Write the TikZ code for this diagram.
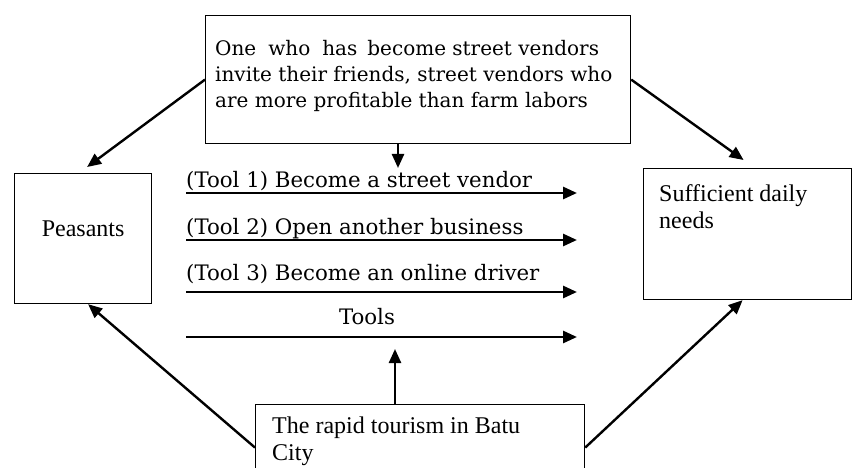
\documentclass[tikz,border=0pt]{standalone}
\usepackage{fontspec}
\setmainfont{Liberation Serif}
\newfontfamily\slabfont{DejaVu Serif}
\usetikzlibrary{arrows.meta}

\begin{document}
\begin{tikzpicture}[x=1pt, y=-1pt,
    box/.style={draw, line width=1.2pt, inner sep=0pt, anchor=north west},
    edge/.style={line width=2.4pt, -{Triangle[length=14pt,width=12pt]}},
    tooledge/.style={line width=2.8pt, -{Triangle[length=14pt,width=12pt]}},
    boxtext/.style={anchor=base west, align=left, inner sep=0pt, font=\fontsize{24}{27}\selectfont},
    tooltext/.style={anchor=base west, inner sep=0pt, font=\slabfont\fontsize{21.3}{24}\selectfont}]
    \useasboundingbox (0,0) rectangle (852,468);

    % Draw nodes
    \node[box, minimum width=425, minimum height=128] (invite) at (205,15) {};
    \node[anchor=base west, align=left, inner sep=0pt, font=\slabfont\fontsize{20}{26}\selectfont] (inviteText) at (215,108)
        {One\hspace{12pt}who\hspace{12pt}has\hspace{10pt}become street vendors\\invite their friends, street vendors who\\are more profitable than farm labors};
    \node[box, minimum width=137, minimum height=130, font=\fontsize{24}{28}\selectfont] (peasants) at (14,173) {\raisebox{20pt}{Peasants}};
    \node[box, minimum width=208, minimum height=131] (needs) at (643,168) {};
    \node[boxtext] (needsText) at (659,229) {Sufficient daily\\needs};
    \node[box, minimum width=329, minimum height=86] (tourism) at (255,404) {};
    \node[boxtext] (tourismText) at (272,460) {The rapid tourism in Batu\\City};

    % Tools
    \coordinate (s1) at (186,193); \coordinate (e1) at (577,193);
    \coordinate (s2) at (186,240); \coordinate (e2) at (577,240);
    \coordinate (s3) at (186,292); \coordinate (e3) at (577,292);
    \coordinate (s4) at (186,337); \coordinate (e4) at (577,337);
    \node[tooltext] (tool1) at (186,188) {(Tool 1) Become a street vendor};
    \node[tooltext] (tool2) at (186,234) {(Tool 2) Open another business};
    \node[tooltext] (tool3) at (186,280) {(Tool 3) Become an online driver};
    \node[tooltext, anchor=base] (tools) at (367,324) {Tools};
    \coordinate (toolTop) at (398,168);
    \coordinate (toolBottom) at (395,349);

    % Draw edges
    \draw[tooledge] (s1) -- (e1);
    \draw[tooledge] (s2) -- (e2);
    \draw[tooledge] (s3) -- (e3);
    \draw[tooledge] (s4) -- (e4);
    \draw[edge] (invite.west) -- ([shift={(4,-6)}]peasants.north);
    \draw[edge] (invite.east) -- ([shift={(-4,-8)}]needs.north);
    \draw[edge] (invite.south -| toolTop) -- (toolTop);
    \draw[edge] (tourism.north -| toolBottom) -- (toolBottom);
    \draw[edge] (tourism.west) -- ([xshift=5]peasants.south);
    \draw[edge] (tourism.east) -- ([xshift=-5]needs.south);
\end{tikzpicture}
\end{document}
